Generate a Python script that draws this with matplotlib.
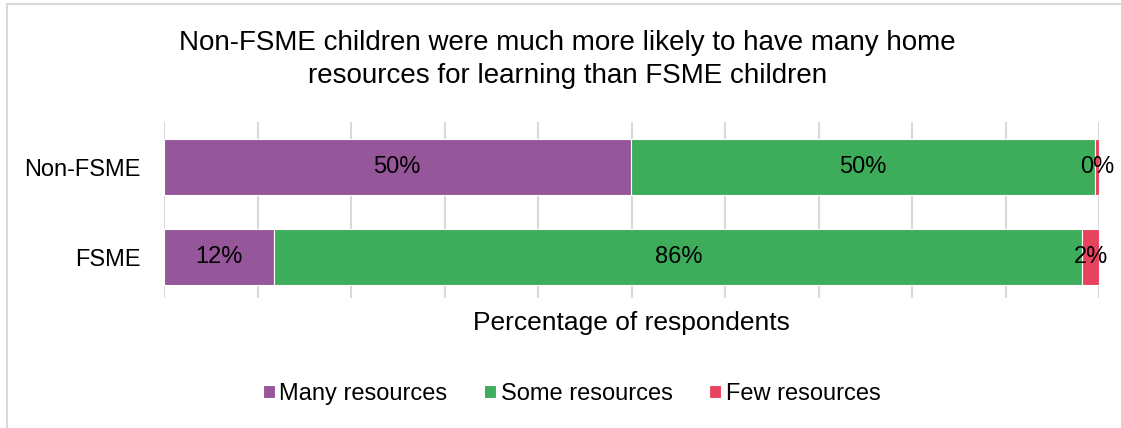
import numpy as np
import matplotlib.pyplot as plt
import matplotlib
from matplotlib.lines import Line2D

matplotlib.rc('font', family=['Liberation Sans', 'DejaVu Sans'], size=17)

# survey shares (percent of respondents)
groups = ["FSME", "Non-FSME"]
many = [11.8, 49.9]
some = [86.4, 49.7]
few = [1.8, 0.4]
series_names = ["Many resources", "Some resources", "Few resources"]
colours = ["#96569A", "#3EAD5B", "#E8435E"]

title = ("Non-FSME children were much more likely to have many home\n"
         "resources for learning than FSME children")

fig = plt.figure(figsize=(11.21, 4.28), dpi=100)
ax = fig.add_axes([0.1463, 0.3037, 0.8341, 0.4113])

y = np.arange(len(groups))
left = np.zeros(len(groups))
for vals, name, c in zip([many, some, few], series_names, colours):
    vals = np.array(vals)
    bars = ax.barh(y, vals, left=left, height=0.62, color=c,
                   edgecolor="white", linewidth=0.8, label=name, zorder=3)
    ax.bar_label(bars, labels=["%.0f%%" % v for v in vals],
                 label_type="center", fontsize=17, color="black", zorder=4)
    left += vals

ax.set_xlim(0, 100)
ax.set_ylim(-0.45, 1.5)
ax.set_xticks(np.arange(0, 101, 10))
ax.set_xticklabels([])
ax.tick_params(axis="x", length=0)
ax.tick_params(axis="y", length=0, pad=17, labelsize=17)
ax.set_yticks(y)
ax.set_yticklabels(groups)
ax.grid(axis="x", color="#D9D9D9", linewidth=1.5, zorder=0)
for s in ax.spines.values():
    s.set_visible(False)

ax.set_xlabel("Percentage of respondents", fontsize=19, labelpad=6)

fig.text(0.506, 0.861, title, ha="center", va="center", fontsize=20,
         linespacing=1.32)

ax.legend(loc="center", bbox_to_anchor=(0.510, 0.080),
          bbox_transform=fig.transFigure, ncol=3, frameon=False,
          handlelength=0.5, handleheight=0.5, handletextpad=0.2,
          columnspacing=1.55, fontsize=17)

# light outline along the top and left of the chart area
fig.add_artist(Line2D([7 / 1121, 1], [1 - 4 / 428, 1 - 4 / 428],
                      transform=fig.transFigure, color="#D9D9D9", lw=1.5))
fig.add_artist(Line2D([7 / 1121, 7 / 1121], [0, 1 - 4 / 428],
                      transform=fig.transFigure, color="#D9D9D9", lw=1.5))

plt.savefig("out.png", dpi=100)
